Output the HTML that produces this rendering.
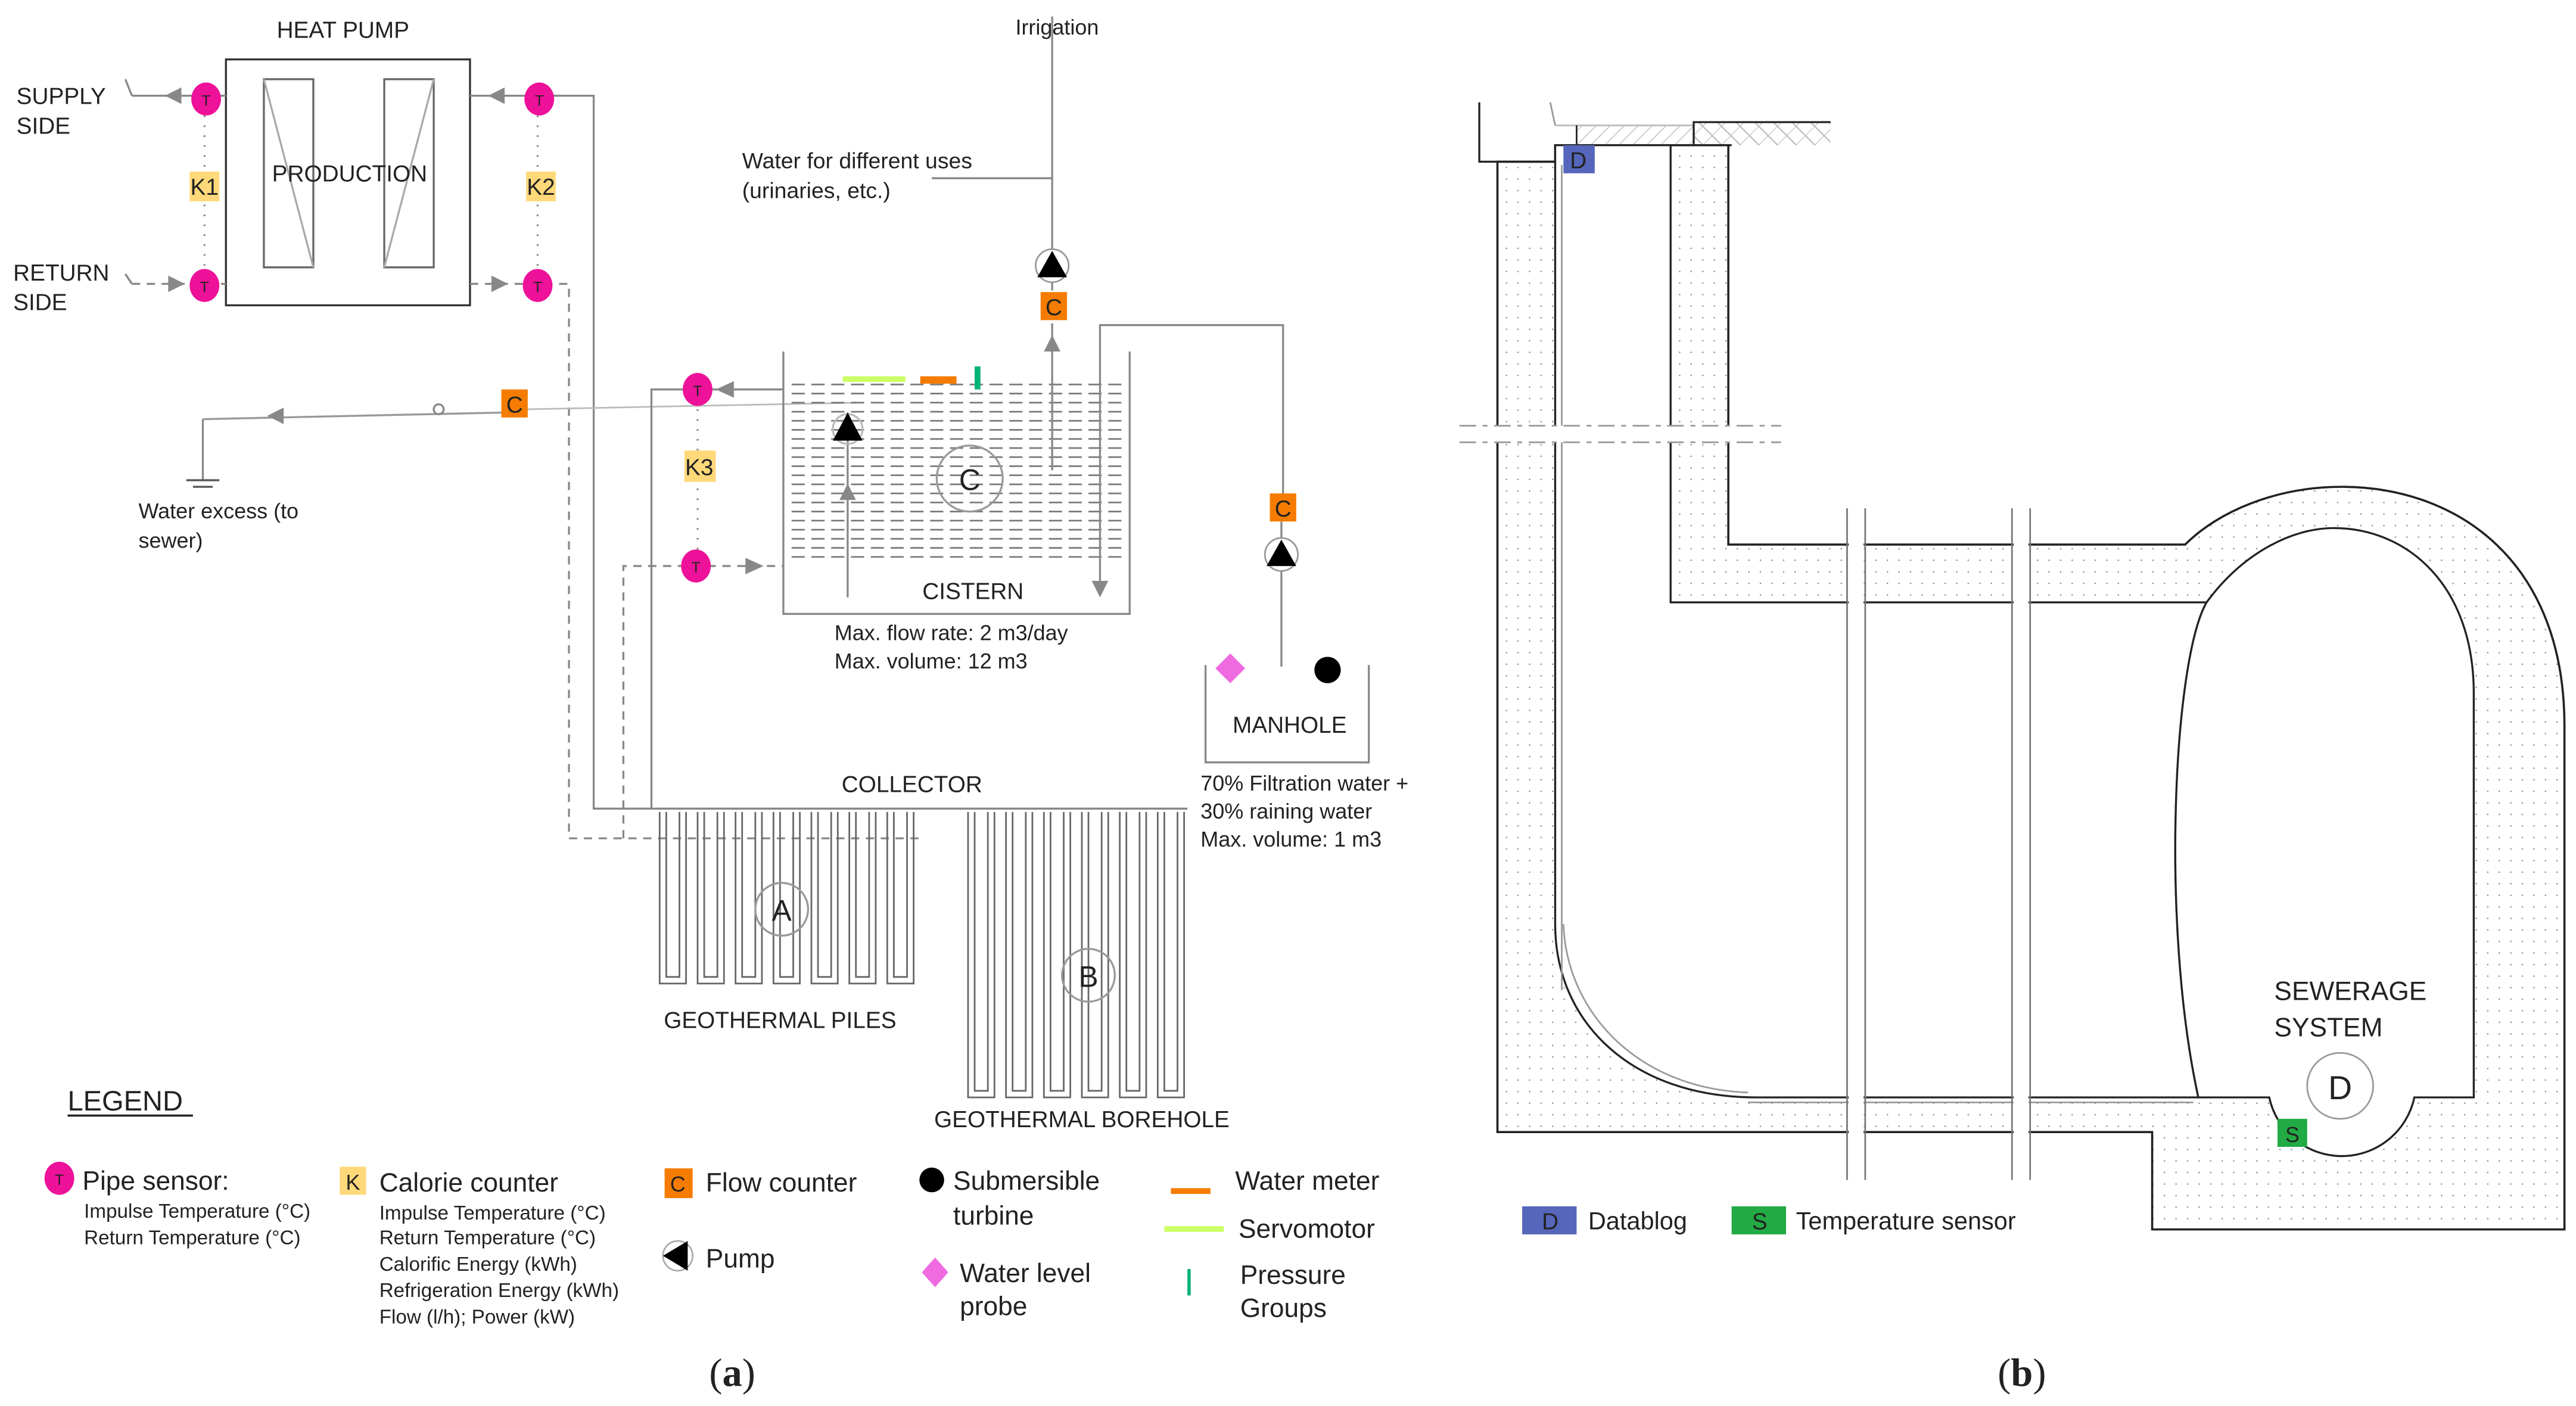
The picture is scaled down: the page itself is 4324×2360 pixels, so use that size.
<!DOCTYPE html>
<html><head><meta charset="utf-8"><style>
html,body{margin:0;padding:0;background:#fff}
svg{display:block}
text{font-family:"Liberation Sans",sans-serif;fill:#222}
</style></head><body>
<svg width="4324" height="2360" viewBox="0 0 1562 852" preserveAspectRatio="none" xmlns="http://www.w3.org/2000/svg">
<defs>
<pattern id="dots" width="7" height="7" patternUnits="userSpaceOnUse"><circle cx="3.5" cy="3.5" r="0.45" fill="#888"/></pattern>
<pattern id="hatch" width="6" height="6" patternUnits="userSpaceOnUse" patternTransform="rotate(45)"><line x1="0" y1="0" x2="0" y2="6" stroke="#aaa" stroke-width="0.8"/></pattern>
<pattern id="cross" width="8" height="8" patternUnits="userSpaceOnUse" patternTransform="rotate(45)"><line x1="0" y1="0" x2="0" y2="8" stroke="#bbb" stroke-width="0.8"/><line x1="0" y1="4" x2="8" y2="4" stroke="#bbb" stroke-width="0.8"/></pattern>
<pattern id="water" width="12" height="5.5" patternUnits="userSpaceOnUse"><line x1="0" y1="2" x2="8" y2="2" stroke="#777" stroke-width="1"/></pattern>
</defs>

<!-- ============ PANEL A ============ -->
<g stroke="#888" stroke-width="1.2" fill="none">
<rect x="137" y="36" width="148" height="149" stroke="#333"/>
<rect x="160" y="48" width="30" height="114" stroke="#666"/>
<rect x="233" y="48" width="30" height="114" stroke="#666"/>
<line x1="160" y1="48" x2="190" y2="162" stroke="#aaa"/>
<line x1="233" y1="162" x2="263" y2="48" stroke="#aaa"/>
<line x1="80" y1="58" x2="137" y2="58"/>
<line x1="76" y1="48" x2="80" y2="58"/>
<line x1="80" y1="172" x2="137" y2="172" stroke-dasharray="5,4"/>
<line x1="76" y1="166" x2="80" y2="172"/>
<line x1="124" y1="70" x2="124" y2="162" stroke-dasharray="1,5"/>
<line x1="326" y1="70" x2="326" y2="162" stroke-dasharray="1,5"/>
<polyline points="285,58 360,58 360,490 720,490"/>
<polyline points="285,172 345,172 345,508 560,508" stroke-dasharray="5,4"/>
<!-- water excess -->
<line x1="123" y1="254" x2="305" y2="250" stroke="#999"/>
<line x1="123" y1="254" x2="123" y2="291"/>
<line x1="113" y1="291" x2="133" y2="291" stroke="#555"/>
<line x1="117" y1="295" x2="129" y2="295" stroke="#555"/>
<circle cx="266" cy="248" r="3"/>
<line x1="320" y1="248" x2="520" y2="244" stroke="#bbb" stroke-width="1"/>
<!-- K3 loop -->
<polyline points="395,490 395,236 414,236"/>
<line x1="432" y1="236" x2="475" y2="236"/>
<line x1="423" y1="248" x2="423" y2="334" stroke-dasharray="1,5"/>
<polyline points="378,508 378,343 475,343" stroke-dasharray="5,4"/>
<!-- cistern -->
<polyline points="475,213 475,372 685,372 685,213"/>
<rect x="478" y="232" width="206" height="106" fill="url(#water)" stroke="none"/>
<line x1="514" y1="250" x2="514" y2="362"/>
<circle cx="514" cy="260" r="9" stroke="#bbb"/>
<circle cx="588" cy="290" r="20" stroke="#999"/>
<line x1="638" y1="285" x2="638" y2="196"/>
<line x1="638" y1="176" x2="638" y2="10"/>
<line x1="565" y1="108" x2="638" y2="108"/>
<polyline points="667,360 667,197 778,197 778,300"/>
<line x1="777" y1="316" x2="777" y2="404"/>
<polyline points="731,403 731,462 830,462 830,403"/>
<g stroke="#666" stroke-width="1">
<path d="M400,492 V596 H416 V492 M404,492 V592 H412 V492"/>
<path d="M423,492 V596 H439 V492 M427,492 V592 H435 V492"/>
<path d="M446,492 V596 H462 V492 M450,492 V592 H458 V492"/>
<path d="M469,492 V596 H485 V492 M473,492 V592 H481 V492"/>
<path d="M492,492 V596 H508 V492 M496,492 V592 H504 V492"/>
<path d="M515,492 V596 H531 V492 M519,492 V592 H527 V492"/>
<path d="M538,492 V596 H554 V492 M542,492 V592 H550 V492"/>
<path d="M587,492 V665 H603 V492 M591,492 V661 H599 V492"/>
<path d="M610,492 V665 H626 V492 M614,492 V661 H622 V492"/>
<path d="M633,492 V665 H649 V492 M637,492 V661 H645 V492"/>
<path d="M656,492 V665 H672 V492 M660,492 V661 H668 V492"/>
<path d="M679,492 V665 H695 V492 M683,492 V661 H691 V492"/>
<path d="M702,492 V665 H718 V492 M706,492 V661 H714 V492"/>
</g>
<circle cx="474" cy="551" r="16" stroke="#999"/>
<circle cx="660" cy="591" r="16" stroke="#999"/>
</g>
<g fill="#888">
<polygon points="100,58 110,53 110,63"/>
<polygon points="112,172 102,167 102,177"/>
<polygon points="296,58 306,53 306,63"/>
<polygon points="308,172 298,167 298,177"/>
<polygon points="162,252 172,247 172,257"/>
<polygon points="434,236 445,231 445,241"/>
<polygon points="463,343 452,338 452,348"/>
<polygon points="514,293 509,303 519,303"/>
<polygon points="638,203 633,213 643,213"/>
<polygon points="667,362 662,352 672,352"/>
</g>
<polygon points="514,250 505,267 523,267" fill="#000"/>
<circle cx="638" cy="161" r="10" fill="#fff" stroke="#999"/>
<polygon points="638,152 629,168 647,168" fill="#000"/>
<circle cx="777" cy="336" r="10" fill="#fff" stroke="#999"/>
<polygon points="777,327 768,343 786,343" fill="#000"/>
<g fill="#ee1199">
<ellipse cx="125" cy="60" rx="9" ry="10"/><ellipse cx="124" cy="173" rx="9" ry="10"/>
<ellipse cx="327" cy="60" rx="9" ry="10"/><ellipse cx="326" cy="173" rx="9" ry="10"/>
<ellipse cx="423" cy="236" rx="9" ry="10"/><ellipse cx="422" cy="343" rx="9" ry="10"/>
</g>
<g font-size="9" text-anchor="middle">
<text x="125" y="64">T</text><text x="124" y="177">T</text><text x="327" y="64">T</text><text x="326" y="177">T</text><text x="423" y="240">T</text><text x="422" y="347">T</text>
</g>
<g fill="#ffd87a"><rect x="115" y="104" width="18" height="18"/><rect x="319" y="104" width="18" height="18"/><rect x="415" y="273" width="19" height="19"/></g>
<g font-size="14" text-anchor="middle"><text x="124" y="118">K1</text><text x="328" y="118">K2</text><text x="424" y="288">K3</text></g>
<g fill="#f57c00"><rect x="304" y="236" width="16" height="17"/><rect x="631" y="177" width="16" height="17"/><rect x="770" y="299" width="16" height="17"/></g>
<g font-size="14" text-anchor="middle"><text x="312" y="250">C</text><text x="639" y="191">C</text><text x="778" y="313">C</text></g>
<rect x="511" y="228" width="38" height="3.5" fill="#ccff66"/>
<rect x="558" y="228" width="22" height="4.5" fill="#f57c00"/>
<rect x="591" y="222" width="3.5" height="14" fill="#00b377"/>
<polygon points="746,396 755,405 746,414 737,405" fill="#f06ae0"/>
<circle cx="805" cy="406" r="8" fill="#000"/>
<g font-size="14">
<text x="208" y="23" text-anchor="middle">HEAT PUMP</text>
<text x="212" y="110" text-anchor="middle">PRODUCTION</text>
<text x="10" y="63">SUPPLY</text><text x="10" y="81">SIDE</text>
<text x="8" y="170">RETURN</text><text x="8" y="188">SIDE</text>
<text x="641" y="21" text-anchor="middle" font-size="13">Irrigation</text>
<text x="450" y="102" font-size="13.5">Water for different uses</text>
<text x="450" y="120" font-size="13.5">(urinaries, etc.)</text>
<text x="84" y="314" font-size="13">Water excess (to</text>
<text x="84" y="332" font-size="13">sewer)</text>
<text x="590" y="363" text-anchor="middle">CISTERN</text>
<text x="506" y="388" font-size="13">Max. flow rate: 2 m3/day</text>
<text x="506" y="405" font-size="13">Max. volume: 12 m3</text>
<text x="782" y="444" text-anchor="middle">MANHOLE</text>
<text x="728" y="479" font-size="13">70% Filtration water +</text>
<text x="728" y="496" font-size="13">30% raining water</text>
<text x="728" y="513" font-size="13">Max. volume: 1 m3</text>
<text x="553" y="480" text-anchor="middle">COLLECTOR</text>
<text x="588" y="297" text-anchor="middle" font-size="18">C</text>
<text x="474" y="558" text-anchor="middle" font-size="18">A</text>
<text x="660" y="598" text-anchor="middle" font-size="18">B</text>
<text x="473" y="623" text-anchor="middle">GEOTHERMAL PILES</text>
<text x="656" y="683" text-anchor="middle">GEOTHERMAL BOREHOLE</text>
<text x="41" y="673" font-size="17">LEGEND</text>
</g>
<line x1="41" y1="676" x2="117" y2="676" stroke="#222" stroke-width="1.3"/>
<ellipse cx="36" cy="714" rx="9" ry="10" fill="#ee1199"/><text x="36" y="718" font-size="9" text-anchor="middle">T</text>
<rect x="206" y="707" width="16" height="17" fill="#ffd87a"/><text x="214" y="721" font-size="13" text-anchor="middle">K</text>
<rect x="403" y="708" width="17" height="18" fill="#f57c00"/><text x="411" y="722" font-size="13" text-anchor="middle">C</text>
<circle cx="565" cy="715" r="7.5" fill="#000"/>
<circle cx="411" cy="761" r="9" fill="#fff" stroke="#aaa"/><polygon points="402,761 417,752 417,770" fill="#000"/>
<polygon points="567,762 575,771 567,780 559,771" fill="#f06ae0"/>
<rect x="710" y="720" width="24" height="3.5" fill="#f57c00"/>
<rect x="706" y="743" width="36" height="3.5" fill="#ccff66"/>
<rect x="720" y="769" width="2" height="16" fill="#00b377"/>
<g font-size="16">
<text x="50" y="721">Pipe sensor:</text>
<text x="230" y="722">Calorie counter</text>
<text x="428" y="722">Flow counter</text>
<text x="578" y="721">Submersible</text><text x="578" y="742">turbine</text>
<text x="428" y="768">Pump</text>
<text x="582" y="777">Water level</text><text x="582" y="797">probe</text>
<text x="749" y="721">Water meter</text>
<text x="751" y="750">Servomotor</text>
<text x="752" y="778">Pressure</text><text x="752" y="798">Groups</text>
</g>
<g font-size="12">
<text x="51" y="738">Impulse Temperature (°C)</text>
<text x="51" y="754">Return Temperature (°C)</text>
<text x="230" y="739">Impulse Temperature (°C)</text>
<text x="230" y="754">Return Temperature (°C)</text>
<text x="230" y="770">Calorific Energy (kWh)</text>
<text x="230" y="786">Refrigeration Energy (kWh)</text>
<text x="230" y="802">Flow (l/h); Power (kW)</text>
</g>
<text x="444" y="840" font-size="24" text-anchor="middle" style="font-family:'Liberation Serif',serif">(<tspan font-weight="bold">a</tspan>)</text>
<text x="1226" y="840" font-size="24" text-anchor="middle" style="font-family:'Liberation Serif',serif">(<tspan font-weight="bold">b</tspan>)</text>

<!-- ============ PANEL B ============ -->
<polyline points="897,62 897,98 943,98" fill="none" stroke="#222" stroke-width="1.2"/>
<rect x="956" y="76" width="71" height="12" fill="url(#hatch)"/>
<rect x="1027" y="74" width="83" height="14" fill="url(#cross)"/>
<polyline points="943,76 1027,76 1027,88" fill="none" stroke="#bbb"/>
<polyline points="1027,88 1027,74 1110,74" fill="none" stroke="#222" stroke-width="1.2"/>
<line x1="956" y1="76" x2="956" y2="88" stroke="#222"/>
<line x1="943" y1="88" x2="1050" y2="88" stroke="#222" stroke-width="1.3"/>
<line x1="940" y1="62" x2="943" y2="76" stroke="#999"/>
<path d="M908,98 H943 V88 H1048 V330 H1325 C1345,310 1380,295 1420,295 C1490,295 1555,340 1555,440 V745 H1305 V686 H908 Z" fill="url(#dots)" stroke="#222" stroke-width="1.3"/>
<path d="M943,88 H1013 V365 H1338 C1318,400 1310,560 1333,665 H1065 C990,665 943,620 943,560 Z" fill="#fff" stroke="#222" stroke-width="1.2"/>
<line x1="947" y1="100" x2="947" y2="600" stroke="#999" stroke-width="1"/>
<path d="M948,560 C950,615 995,660 1060,662" fill="none" stroke="#999"/>
<path d="M1338,365 C1360,335 1390,320 1415,320 C1460,320 1500,355 1500,420 V665 H1464 A45,45 0 0 1 1376,665 H1333 C1310,560 1318,400 1338,365 Z" fill="#fff" stroke="#222" stroke-width="1.2"/>
<line x1="1060" y1="668" x2="1330" y2="668" stroke="#999"/>
<circle cx="1419" cy="658" r="20" fill="#fff" stroke="#999"/>
<rect x="885" y="258" width="195" height="10" fill="#fff"/>
<line x1="885" y1="258" x2="1080" y2="258" stroke="#999" stroke-dasharray="10,4,3,4"/>
<line x1="885" y1="268" x2="1080" y2="268" stroke="#999" stroke-dasharray="10,4,3,4"/>
<rect x="1121" y="308" width="9" height="407" fill="#fff"/>
<rect x="1221" y="308" width="9" height="407" fill="#fff"/>
<g stroke="#777" stroke-width="1">
<line x1="1120" y1="308" x2="1120" y2="715"/><line x1="1131" y1="308" x2="1131" y2="715"/>
<line x1="1220" y1="308" x2="1220" y2="715"/><line x1="1231" y1="308" x2="1231" y2="715"/>
</g>
<rect x="948" y="88" width="19" height="17" fill="#5566bb"/>
<text x="957" y="102" font-size="14" text-anchor="middle">D</text>
<rect x="1381" y="678" width="18" height="17" fill="#22aa44"/>
<text x="1390" y="692" font-size="13" text-anchor="middle">S</text>
<text x="1419" y="666" font-size="20" text-anchor="middle">D</text>
<text x="1379" y="606" font-size="16">SEWERAGE</text>
<text x="1379" y="628" font-size="16">SYSTEM</text>
<rect x="923" y="731" width="33" height="17" fill="#5566bb"/>
<text x="940" y="745" font-size="14" text-anchor="middle">D</text>
<text x="963" y="745" font-size="15">Datablog</text>
<rect x="1050" y="731" width="33" height="17" fill="#22aa44"/>
<text x="1067" y="745" font-size="14" text-anchor="middle">S</text>
<text x="1089" y="745" font-size="15">Temperature sensor</text>
</svg>
</body></html>
